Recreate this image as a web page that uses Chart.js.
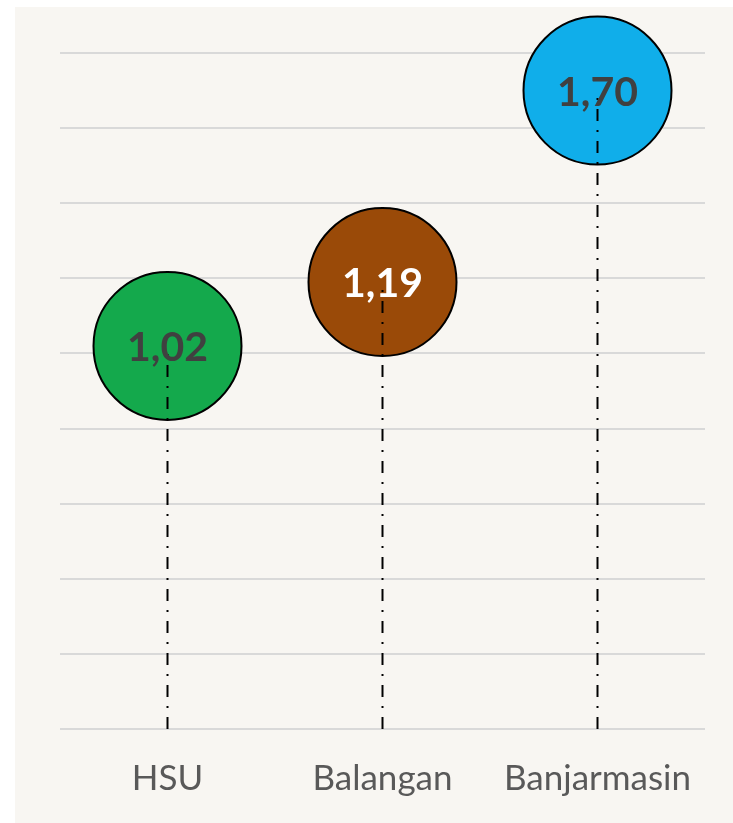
<!DOCTYPE html>
<html>
<head>
<meta charset="utf-8">
<script src="https://cdn.jsdelivr.net/npm/chart.js@4.4.0/dist/chart.umd.min.js"></script>
<style>
    html, body { margin: 0; padding: 0; background: #ffffff; }
    #wrap { position: absolute; left: 15px; top: 7px; width: 718px; height: 816px; background: #f8f6f2; }
</style>
</head>
<body>
<div id="wrap"><canvas id="chart"></canvas></div>
<script>
    "use strict";

    const categories = ['HSU', 'Balangan', 'Banjarmasin'];
    const values = [1.02, 1.19, 1.70];
    const bubbleColors = ['#14a94c', '#9a4a08', '#10aeea'];
    const labelColors = ['#404040', '#ffffff', '#404040'];
    const yTicks = [0, 0.2, 0.4, 0.6, 0.8, 1.0, 1.2, 1.4, 1.6, 1.8];

    function fmt(v) {
        return v.toFixed(2).replace('.', ',');
    }

    // dash-dot stems from the axis up to each bubble
    const stems = categories.map(function (c, i) {
        return {
            type: 'line',
            data: [{ x: c, y: 0 }, { x: c, y: values[i] }],
            borderColor: '#000000',
            borderWidth: 2,
            borderDash: [12, 9, 2, 9],
            pointRadius: 0,
            clip: false,
            order: 1
        };
    });

    const valueLabels = {
        id: 'valueLabels',
        afterDatasetsDraw(chart) {
            const ctx = chart.ctx;
            const meta = chart.getDatasetMeta(0);
            ctx.save();
            ctx.font = 'bold 41px Lato';
            ctx.textAlign = 'center';
            ctx.textBaseline = 'middle';
            meta.data.forEach(function (pt, i) {
                ctx.fillStyle = labelColors[i];
                ctx.fillText(fmt(values[i]), pt.x, pt.y + 2);
            });
            ctx.restore();
        }
    };

    new Chart(document.getElementById('chart'), {
        type: 'line',
        data: {
            labels: categories,
            datasets: [{
                data: values,
                showLine: false,
                pointRadius: 74,
                pointHoverRadius: 74,
                pointBackgroundColor: bubbleColors,
                pointBorderColor: '#000000',
                pointBorderWidth: 2,
                clip: false,
                order: 2
            }].concat(stems)
        },
        options: {
            responsive: true,
            maintainAspectRatio: false,
            animation: false,
            events: [],
            layout: { autoPadding: false, padding: { left: 45, right: 28, top: 46, bottom: -6 } },
            plugins: {
                legend: { display: false },
                tooltip: { enabled: false }
            },
            scales: {
                x: {
                    type: 'category',
                    offset: true,
                    grid: { display: false, drawTicks: false },
                    border: { display: false },
                    ticks: {
                        color: '#595959',
                        font: { family: 'Lato', size: 35 },
                        padding: 29
                    }
                },
                y: {
                    min: 0,
                    max: 1.8,
                    afterBuildTicks(axis) {
                        axis.ticks = yTicks.map(function (v) { return { value: v }; });
                    },
                    grid: { color: '#d9d9d9', lineWidth: 2, drawTicks: false },
                    border: { display: false },
                    ticks: { display: false }
                }
            }
        },
        plugins: [valueLabels]
    });
</script>
</body>
</html>
